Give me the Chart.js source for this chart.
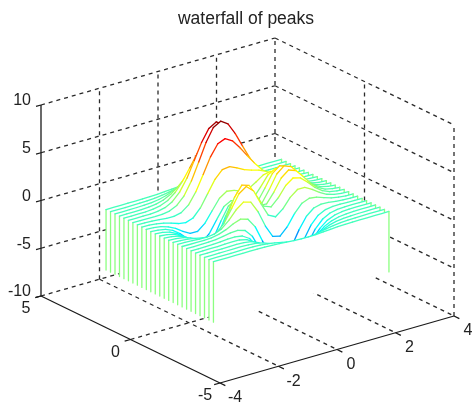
<!DOCTYPE html>
<html>
<head>
<meta charset="utf-8">
<style>html,body{margin:0;padding:0;background:#fff}canvas{display:block}</style>
<script src="https://cdn.jsdelivr.net/npm/chart.js@4"></script>
</head>
<body>
<canvas id="c" width="472" height="406"></canvas>
<script>
const titleText = 'waterfall of peaks';
const xTicks = [-4, -2, 0, 2, 4];
const yTicks = [-5, 0, 5];
const zTicks = [-10, -5, 0, 5, 10];
const xSamples = [-3,-2.75,-2.5,-2.25,-2,-1.75,-1.5,-1.25,-1,-0.75,-0.5,-0.25,0,0.25,0.5,0.75,1,1.25,1.5,1.75,2,2.25,2.5,2.75,3];
const ySlices = [3,2.75,2.5,2.25,2,1.75,1.5,1.25,1,0.75,0.5,0.25,0,-0.25,-0.5,-0.75,-1,-1.25,-1.5,-1.75,-2,-2.25,-2.5,-2.75,-3];
const zBase = -6.33;
const zTop = 7.99;

const zAt_p300 = [0,0,0,0,.01,.01,.03,.06,.11,.17,.23,.28,.30,.28,.23,.17,.11,.06,.03,.01,.01,0,0,0,0];
const zAt_p275 = [0,0,0,.01,.02,.04,.09,.17,.30,.47,.64,.77,.82,.77,.64,.47,.30,.17,.09,.04,.02,.01,0,0,0];
const zAt_p250 = [0,0,0,.01,.03,.08,.19,.39,.69,1.07,1.47,1.77,1.89,1.77,1.47,1.08,.70,.40,.21,.09,.04,.01,0,0,0];
const zAt_p225 = [0,0,.01,.02,.06,.15,.36,.74,1.32,2.07,2.84,3.43,3.65,3.43,2.84,2.09,1.36,.79,.41,.19,.08,.03,.01,0,0];
const zAt_p200 = [0,0,.01,.02,.08,.23,.55,1.16,2.10,3.31,4.56,5.51,5.86,5.50,4.57,3.37,2.21,1.29,.68,.32,.13,.05,.02,.01,0];
const zAt_p175 = [0,0,0,.01,.07,.24,.65,1.43,2.67,4.29,5.96,7.22,7.68,7.20,5.99,4.45,2.96,1.78,.96,.47,.21,.08,.03,.01,0];
const zAt_p150 = [0,-.01,-.02,-.03,-.01,.11,.48,1.27,2.61,4.37,6.19,7.54,7.99,7.48,6.25,4.72,3.25,2.05,1.18,.62,.29,.12,.05,.02,0];
const zAt_p125 = [-.01,-.02,-.06,-.12,-.20,-.22,-.05,.55,1.70,3.29,4.92,6.07,6.39,5.94,5.02,3.97,2.97,2.09,1.35,.79,.41,.19,.07,.03,.01];
const zAt_p100 = [-.01,-.04,-.11,-.25,-.48,-.74,-.86,-.60,.23,1.51,2.79,3.59,3.69,3.34,2.93,2.66,2.43,2.08,1.58,1.04,.58,.28,.11,.04,.01];
const zAt_p075 = [-.02,-.07,-.18,-.42,-.81,-1.33,-1.76,-1.78,-1.16,-.05,1.04,1.55,1.42,1.12,1.17,1.65,2.17,2.32,1.99,1.40,.82,.40,.17,.06,.02];
const zAt_p050 = [-.03,-.09,-.25,-.57,-1.12,-1.85,-2.49,-2.64,-2.00,-.76,.39,.80,.46,.09,.38,1.34,2.38,2.83,2.56,1.85,1.09,.54,.23,.08,.03];
const zAt_p025 = [-.04,-.11,-.29,-.67,-1.32,-2.16,-2.87,-2.98,-2.15,-.65,.68,1.06,.52,-.03,.28,1.47,2.76,3.36,3.06,2.22,1.32,.66,.28,.10,.03];
const zAt_000 = [-.04,-.11,-.30,-.69,-1.33,-2.14,-2.77,-2.71,-1.65,.06,1.48,1.75,.98,.19,.37,1.57,2.94,3.58,3.27,2.37,1.41,.70,.30,.11,.03];
const zAt_m025 = [-.03,-.10,-.27,-.60,-1.14,-1.78,-2.16,-1.84,-.57,1.23,2.56,2.63,1.58,.53,.48,1.50,2.76,3.37,3.09,2.25,1.34,.67,.28,.10,.03];
const zAt_m050 = [-.03,-.08,-.20,-.44,-.80,-1.16,-1.21,-.60,.80,2.49,3.55,3.30,2.00,.70,.39,1.14,2.20,2.76,2.56,1.88,1.12,.56,.24,.09,.03];
const zAt_m075 = [-.02,-.05,-.12,-.26,-.42,-.51,-.28,.49,1.78,3.09,3.63,2.94,1.40,-.01,-.41,.20,1.18,1.79,1.78,1.35,.82,.41,.18,.06,.02];
const zAt_m100 = [-.01,-.02,-.06,-.10,-.13,-.04,.30,.98,1.86,2.45,2.22,1.00,-.72,-2.02,-2.22,-1.43,-.27,.58,.88,.77,.50,.26,.11,.04,.01];
const zAt_m125 = [0,-.01,-.01,-.01,.03,.17,.45,.84,1.11,.88,-.14,-1.85,-3.61,-4.61,-4.40,-3.23,-1.74,-.56,.08,.27,.23,.13,.06,.02,.01];
const zAt_m150 = [0,0,.01,.03,.08,.19,.33,.39,.15,-.68,-2.18,-4.07,-5.68,-6.32,-5.76,-4.31,-2.63,-1.27,-.44,-.07,.04,.05,.03,.01,0];
const zAt_m175 = [0,0,.01,.03,.07,.13,.15,.02,-.46,-1.48,-3.01,-4.70,-5.98,-6.33,-5.64,-4.24,-2.69,-1.42,-.61,-.20,-.04,0,.01,0,0];
const zAt_m200 = [0,0,.01,.02,.05,.07,.05,-.13,-.59,-1.45,-2.64,-3.88,-4.76,-4.93,-4.35,-3.27,-2.10,-1.15,-.53,-.20,-.06,-.01,0,0,0];
const zAt_m225 = [0,0,.01,.01,.03,.04,.01,-.12,-.44,-.99,-1.74,-2.51,-3.02,-3.10,-2.72,-2.05,-1.32,-.73,-.35,-.14,-.05,-.01,0,0,0];
const zAt_m250 = [0,0,0,.01,.01,.02,0,-.07,-.23,-.53,-.91,-1.31,-1.57,-1.60,-1.41,-1.06,-.69,-.38,-.18,-.08,-.03,-.01,0,0,0];
const zAt_m275 = [0,0,0,0,.01,.01,.01,-.02,-.10,-.22,-.39,-.56,-.68,-.69,-.61,-.46,-.30,-.17,-.08,-.03,-.01,0,0,0,0];
const zAt_m300 = [0,0,0,0,0,.01,0,-.01,-.03,-.08,-.14,-.20,-.25,-.25,-.22,-.17,-.11,-.06,-.03,-.01,-.01,0,0,0,0];

const zSlices = [zAt_p300,zAt_p275,zAt_p250,zAt_p225,zAt_p200,zAt_p175,zAt_p150,zAt_p125,zAt_p100,zAt_p075,zAt_p050,zAt_p025,zAt_000,zAt_m025,zAt_m050,zAt_m075,zAt_m100,zAt_m125,zAt_m150,zAt_m175,zAt_m200,zAt_m225,zAt_m250,zAt_m275,zAt_m300];

// box view: data (x,y,z) to the flat plot's coordinates
function view(x, y, z) {
  const u = (x + 4) / 8, v = (5 - y) / 10, w = (z + 10) / 20;
  return { x: 41 + u * 234 + v * 179, y: 296 - u * 67 + v * 87 - w * 191, z };
}
function jet(z) {
  const t = Math.min(1, Math.max(0, (z - zBase) / (zTop - zBase)));
  const ch = k => Math.round(255 * Math.min(1, Math.max(0, 1.5 - Math.abs(4 * t - k))));
  return `rgb(${ch(3)},${ch(2)},${ch(1)})`;
}
const GRID = '#2a2a2a', AXIS = '#1a1a1a', STEM = '#8cff80';
const datasets = [];
function rule(a, b, dashed) {
  datasets.push({
    data: [a, b], showLine: true, pointRadius: 0, borderWidth: 1.3, fill: false,
    borderColor: dashed ? GRID : AXIS, borderDash: dashed ? [4, 4] : [], order: dashed ? 2000 : 1000, clip: false
  });
}
// walls and floor
for (const z of zTicks) {
  rule(view(-4, 5, z), view(4, 5, z), true);
  rule(view(4, 5, z), view(4, -5, z), true);
}
for (const x of xTicks) {
  if (x > -4) rule(view(x, 5, -10), view(x, 5, 10), true);
  if (x > -4 && x < 4) rule(view(x, 5, -10), view(x, -5, -10), true);
}
for (const y of yTicks) {
  if (y < 5) rule(view(4, y, -10), view(4, y, 10), true);
  if (y > -5 && y < 5) rule(view(-4, y, -10), view(4, y, -10), true);
}
// solid axes and ticks
rule(view(-4, 5, -10), view(-4, 5, 10), false);
rule(view(-4, 5, -10), view(-4, -5, -10), false);
rule(view(-4, -5, -10), view(4, -5, -10), false);
for (const z of zTicks) rule(view(-4, 5, z), view(-4.17, 5, z), false);
for (const y of yTicks) rule(view(-4, y, -10), view(-4.2, y, -10), false);
for (const x of xTicks) rule(view(x, -5, -10), view(x, -5.3, -10), false);

// slices, back to front: a white patch, then its coloured edge
ySlices.forEach((y, i) => {
  const row = zSlices[i];
  const pts = [view(xSamples[0], y, zBase)];
  xSamples.forEach((x, j) => pts.push(view(x, y, row[j])));
  pts.push(view(xSamples[xSamples.length - 1], y, zBase));
  const last = pts.length - 2;
  const rank = 2 * (ySlices.length - i);
  datasets.push({
    data: pts, showLine: true, pointRadius: 0, borderWidth: 0, tension: 0,
    fill: 'shape', backgroundColor: '#ffffff', clip: false, order: rank + 1
  });
  datasets.push({
    data: pts, showLine: true, pointRadius: 0, borderWidth: 1.3, tension: 0,
    fill: false, borderColor: STEM, clip: false, order: rank,
    borderCapStyle: 'round',
    segment: {
      borderColor: ctx => (ctx.p0DataIndex === 0 || ctx.p0DataIndex === last) ? STEM
        : jet((pts[ctx.p0DataIndex].z + pts[ctx.p1DataIndex].z) / 2)
    }
  });
});

const tickText = {
  id: 'tickText',
  afterDraw(chart) {
    const { ctx, scales } = chart;
    ctx.save();
    ctx.fillStyle = '#222';
    ctx.font = '16px "Liberation Sans"';
    ctx.textBaseline = 'middle';
    const put = (p, dx, dy, s, align) => {
      ctx.textAlign = align;
      ctx.fillText(s, scales.x.getPixelForValue(p.x) + dx, scales.y.getPixelForValue(p.y) + dy);
    };
    for (const z of zTicks) put(view(-4, 5, z), -10, -4, String(z), 'right');
    for (const y of yTicks) put(view(-4, y, -10), -15, 13, String(y), 'center');
    for (const x of xTicks) put(view(x, -5, -10), x < 0 ? 15 : 14, 15, String(x), 'center');
    ctx.restore();
  }
};

new Chart(document.getElementById('c'), {
  type: 'scatter',
  data: { datasets },
  plugins: [tickText],
  options: {
    responsive: false, animation: false, events: [],
    layout: { padding: { left: 20 } },
    scales: {
      x: { type: 'linear', display: false, min: 20, max: 472 },
      y: { type: 'linear', display: false, min: 30, max: 406, reverse: true }
    },
    elements: { line: { borderJoinStyle: 'round' } },
    plugins: {
      legend: { display: false },
      tooltip: { enabled: false },
      filler: { drawTime: 'beforeDatasetDraw' },
      title: {
        display: true, text: titleText, color: '#222', fullSize: false,
        font: { family: '"Liberation Sans"', size: 17.5, weight: 'normal', lineHeight: 1.2 },
        padding: { top: 9, bottom: 0 }
      }
    }
  }
});
</script>
</body>
</html>
